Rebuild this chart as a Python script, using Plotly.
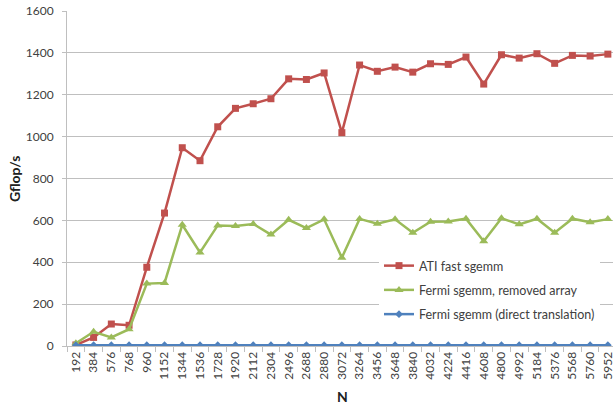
import plotly.graph_objects as go

categories = [str(192 * i) for i in range(1, 32)]

ati_fast = [5, 41, 105, 99, 376, 635, 947, 885, 1047, 1135, 1157, 1181, 1276, 1273, 1304,
            1019, 1342, 1312, 1332, 1308, 1348, 1345, 1380, 1251, 1391, 1375, 1396, 1350,
            1388, 1385, 1394]
fermi_removed = [13, 68, 41, 80, 298, 301, 579, 447, 576, 573, 583, 532, 603, 563, 605,
                 422, 607, 584, 605, 541, 594, 595, 608, 500, 610, 581, 608, 541, 608,
                 591, 606]
fermi_direct = [4, 4, 4, 4, 4, 4, 4, 4, 4, 4, 4, 4, 4, 4, 4,
                4, 4, 4, 4, 4, 4, 4, 4, 4, 4, 4, 4, 4, 4, 4, 4]

FONT = "Lato, 'Open Sans', sans-serif"

W, H = 613, 405
L, R, T, B = 67, 0, 11, 59
pw, ph = W - L - R, H - T - B


def px_to_paper(px, py):
    return (px - L) / pw, (H - B - py) / ph


fig = go.Figure()
fig.add_trace(go.Scatter(x=categories, y=ati_fast, name="ATI fast sgemm",
                         mode="lines+markers", legendgroup="a",
                         line=dict(color="#C0504D", width=2.5),
                         marker=dict(symbol="square", size=7, color="#C0504D")))
fig.add_trace(go.Scatter(x=categories, y=fermi_removed, name="Fermi sgemm, removed array",
                         mode="lines+markers", legendgroup="b",
                         line=dict(color="#9BBB59", width=2.5),
                         marker=dict(symbol="triangle-up", size=8, color="#9BBB59")))
fig.add_trace(go.Scatter(x=categories, y=fermi_direct, name="Fermi sgemm (direct translation)",
                         mode="lines+markers", legendgroup="c",
                         line=dict(color="#4F81BD", width=2.5),
                         marker=dict(symbol="diamond", size=6, color="#4F81BD")))

gx, gy = px_to_paper(14, 179)
nx, ny = px_to_paper(342, 396)
lx, ly = px_to_paper(379, 251)

fig.update_layout(
    width=W, height=H,
    margin=dict(l=L, r=R, t=T, b=B),
    paper_bgcolor="white", plot_bgcolor="white",
    font=dict(family=FONT, size=12, color="#404040"),
    showlegend=True,
    legend=dict(x=lx, y=ly, xanchor="left", yanchor="top",
                bgcolor="white", font=dict(size=12.5, color="#404040"),
                tracegroupgap=5, itemwidth=30),
    xaxis=dict(type="category", range=[-0.5, 30.29], automargin=False,
               tickangle=-90, tickfont=dict(size=12, color="#404040"),
               showline=True, linecolor="#bfbfbf", linewidth=1,
               ticks="outside", tickson="boundaries", ticklen=5, tickcolor="#bfbfbf",
               showgrid=False, zeroline=False),
    yaxis=dict(range=[0, 1600], dtick=200, automargin=False,
               showline=True, linecolor="#bfbfbf", linewidth=1,
               ticks="outside", ticklen=4, tickcolor="#bfbfbf",
               ticklabelstandoff=6,
               showgrid=True, gridcolor="#bfbfbf", gridwidth=1, zeroline=False,
               tickfont=dict(size=12, color="#404040")),
    annotations=[
        dict(text="<b>Gflop/s</b>", x=gx, y=gy, xref="paper", yref="paper",
             textangle=-90, showarrow=False, font=dict(size=14, color="#202020"),
             xanchor="center", yanchor="middle"),
        dict(text="<b>N</b>", x=nx, y=ny, xref="paper", yref="paper", showarrow=False,
             font=dict(size=14, color="#202020"), xanchor="center", yanchor="middle"),
    ],
)

fig.write_html("out.html",
               config={"displayModeBar": False},
               post_script="document.body.style.margin='0';document.body.style.padding='0';")
